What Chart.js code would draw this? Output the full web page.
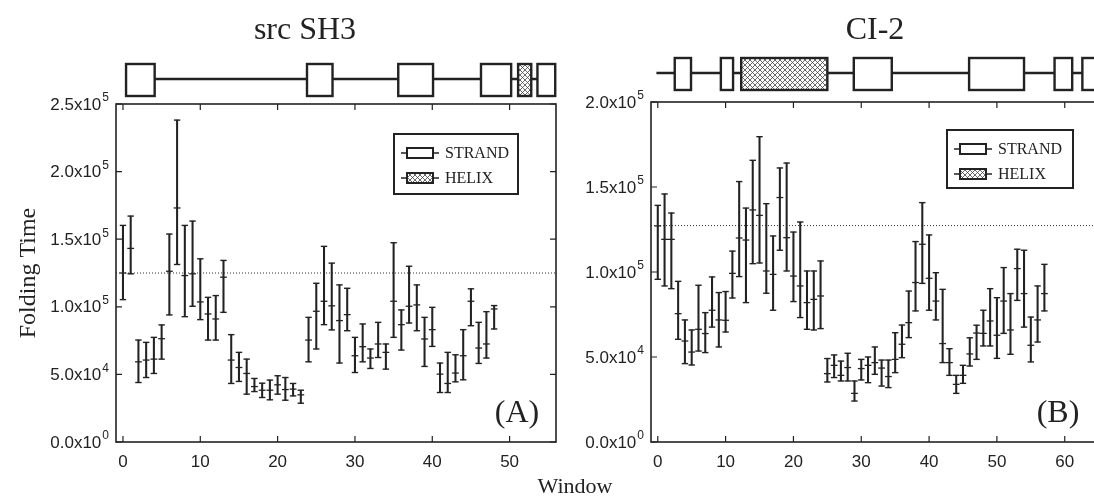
<!DOCTYPE html>
<html lang="en">
<head>
    <meta charset="UTF-8">
    <title>Folding Time per Window</title>
    <script src="https://cdn.jsdelivr.net/npm/chart.js"></script>
    <style>
        html, body {
            margin: 0;
            padding: 0;
            background: #fff;
            overflow: hidden;
            width: 1094px;
            height: 500px;
        }
        .panel {
            position: absolute;
            top: 0;
            height: 500px;
        }
        .label {
            position: absolute;
            transform: translate(-50%, -50%);
            font-family: 'Liberation Serif', serif;
            color: #222;
            white-space: nowrap;
        }
    </style>
</head>
<body>
    <div class="panel" style="left:0;width:570px;"><canvas id="chartA" width="570" height="500"></canvas></div>
    <div class="panel" style="left:560px;width:550px;"><canvas id="chartB" width="550" height="500"></canvas></div>

    <div class="label" style="left:305px;top:28px;font-size:32px;">src SH3</div>
    <div class="label" style="left:875px;top:28px;font-size:32px;">CI-2</div>
    <div class="label" style="left:575px;top:486px;font-size:22px;">Window</div>

    <script>
        // ---- src SH3 (panel A), folding time in units of 1000 ----
        const windowsA = [0, 1, 2, 3, 4, 5, 6, 7, 8, 9, 10, 11, 12, 13, 14, 15, 16, 17, 18, 19,
            20, 21, 22, 23, 24, 25, 26, 27, 28, 29, 30, 31, 32, 33, 34, 35, 36, 37, 38, 39,
            40, 41, 42, 43, 44, 45, 46, 47, 48];
        const meanA = [125.0, 143.2, 59.3, 60.6, 61.3, 76.4, 126.3, 173.1, 123.1, 124.4,
            103.6, 94.7, 91.0, 121.9, 60.6, 55.1, 50.7, 41.0, 38.3, 38.3,
            42.3, 38.8, 39.1, 34.9, 75.4, 96.7, 104.1, 100.7, 89.8, 94.2,
            63.8, 70.5, 62.1, 72.5, 66.3, 104.1, 86.8, 100.4, 101.4, 76.2,
            83.1, 50.2, 43.3, 51.0, 63.8, 104.1, 69.5, 72.5, 98.4];
        const highA = [160.2, 167.1, 75.4, 73.7, 77.4, 86.6, 153.8, 238.1, 160.2, 163.4,
            135.5, 107.0, 108.3, 134.3, 79.4, 66.3, 61.3, 47.0, 43.5, 45.8,
            49.0, 47.7, 43.3, 38.3, 92.2, 117.4, 144.7, 132.3, 116.2, 113.7,
            77.4, 87.3, 68.8, 88.5, 72.5, 147.4, 97.7, 130.0, 116.2, 92.2,
            99.6, 58.4, 66.3, 64.5, 83.1, 113.3, 88.5, 96.4, 100.9];
        const lowA = [105.3, 124.4, 44.0, 47.7, 50.7, 61.3, 94.0, 131.3, 92.7, 100.4,
            90.5, 75.4, 75.4, 95.9, 43.3, 44.8, 35.4, 37.3, 32.9, 31.2,
            35.4, 30.9, 34.1, 28.7, 59.3, 68.8, 86.8, 82.9, 58.4, 82.3,
            51.4, 59.3, 54.4, 62.5, 53.9, 77.4, 68.0, 88.0, 82.3, 55.9,
            70.7, 36.6, 36.6, 44.5, 46.0, 86.0, 58.1, 62.1, 83.6];
        const referenceA = 125.0;
        const strandsA = [[0.4, 4.1], [23.8, 27.1], [35.6, 40.1], [46.3, 50.2], [53.6, 55.9]];
        const helicesA = [[51.1, 52.8]];
        const xTicksA = [0, 10, 20, 30, 40, 50];
        const yTicksA = [0, 50, 100, 150, 200, 250];
        const yTickBaseA = ['0.0x10', '5.0x10', '1.0x10', '1.5x10', '2.0x10', '2.5x10'];
        const yTickExpA = ['0', '4', '5', '5', '5', '5'];

        // ---- CI-2 (panel B) ----
        const windowsB = [0, 1, 2, 3, 4, 5, 6, 7, 8, 9, 10, 11, 12, 13, 14, 15, 16, 17, 18, 19,
            20, 21, 22, 23, 24, 25, 26, 27, 28, 29, 30, 31, 32, 33, 34, 35, 36, 37, 38, 39,
            40, 41, 42, 43, 44, 45, 46, 47, 48, 49, 50, 51, 52, 53, 54, 55, 56, 57];
        const meanB = [127.1, 119.2, 119.2, 75.5, 59.4, 52.9, 66.3, 63.8, 77.5, 71.8,
            71.6, 99.2, 120.0, 118.8, 136.5, 133.3, 100.6, 98.6, 143.8, 120.2,
            97.6, 91.8, 82.0, 83.9, 85.9, 40.2, 45.1, 39.2, 43.8, 28.6,
            43.2, 45.1, 46.7, 43.5, 38.5, 48.6, 57.5, 70.2, 93.8, 116.3,
            96.3, 82.9, 57.9, 46.7, 33.9, 39.2, 51.8, 64.1, 63.9, 71.2,
            62.8, 82.9, 65.9, 102.0, 87.3, 56.9, 71.8, 87.3];
        const highB = [139.2, 145.9, 134.7, 94.5, 71.8, 65.9, 92.2, 76.1, 97.1, 87.9,
            88.5, 112.3, 153.2, 137.6, 165.7, 179.6, 140.2, 121.2, 161.2, 164.1,
            123.5, 129.4, 100.6, 100.6, 106.5, 49.1, 51.2, 47.6, 52.2, 35.9,
            48.6, 50.0, 55.9, 48.2, 48.2, 64.3, 68.8, 88.8, 117.9, 140.8,
            121.8, 99.6, 89.8, 54.9, 39.2, 45.1, 61.3, 68.7, 77.5, 90.2,
            84.9, 102.6, 87.3, 113.4, 112.8, 73.5, 91.8, 104.5];
        const lowB = [95.7, 91.8, 90.2, 60.4, 46.1, 45.3, 53.5, 52.6, 67.6, 55.9,
            64.7, 84.7, 97.3, 82.0, 104.9, 105.3, 87.5, 77.5, 112.8, 100.6,
            82.6, 73.2, 66.3, 65.9, 66.7, 35.3, 37.9, 35.9, 35.9, 24.1,
            36.5, 34.9, 39.8, 32.9, 32.0, 40.8, 49.6, 61.4, 77.1, 93.3,
            77.5, 71.8, 46.7, 39.2, 28.6, 34.5, 44.7, 48.6, 56.5, 56.5,
            49.2, 63.9, 51.6, 83.3, 67.6, 47.1, 58.8, 77.1];
        const referenceB = 127.3;
        const strandsB = [[2.5, 4.9], [9.3, 11.1], [28.9, 34.5], [45.9, 54.0], [58.5, 61.1], [62.6, 66.0]];
        const helicesB = [[12.3, 25.0]];
        const xTicksB = [0, 10, 20, 30, 40, 50, 60];
        const yTicksB = [0, 50, 100, 150, 200];
        const yTickBaseB = ['0.0x10', '5.0x10', '1.0x10', '1.5x10', '2.0x10'];
        const yTickExpB = ['0', '4', '5', '5', '5'];

        const legendLabels = ['STRAND', 'HELIX'];
        const INK = '#222';

        function hatchPattern(ctx) {
            const c = document.createElement('canvas');
            c.width = 5; c.height = 5;
            const g = c.getContext('2d');
            g.fillStyle = '#fff';
            g.fillRect(0, 0, 5, 5);
            g.strokeStyle = '#444';
            g.lineWidth = 0.8;
            g.beginPath();
            g.moveTo(0, 0); g.lineTo(5, 5);
            g.moveTo(5, 0); g.lineTo(0, 5);
            g.stroke();
            return ctx.createPattern(c, 'repeat');
        }

        // frame, inward ticks, y labels with exponents, structure bar, legend, panel tag
        const decorPlugin = {
            id: 'decor',
            afterDraw(chart, args, o) {
                const ctx = chart.ctx;
                const { left, right, top, bottom } = chart.chartArea;
                const xs = chart.scales.x, ys = chart.scales.y;
                const hatch = hatchPattern(ctx);
                ctx.save();
                ctx.strokeStyle = INK;
                ctx.lineWidth = 1.2;
                ctx.beginPath();
                xs.ticks.forEach(t => {
                    const px = xs.getPixelForValue(t.value);
                    ctx.moveTo(px, bottom); ctx.lineTo(px, bottom - 6);
                    ctx.moveTo(px, top); ctx.lineTo(px, top + 6);
                });
                ys.ticks.forEach(t => {
                    const py = ys.getPixelForValue(t.value);
                    ctx.moveTo(left, py); ctx.lineTo(left + 6, py);
                    ctx.moveTo(right, py); ctx.lineTo(right - 6, py);
                });
                ctx.stroke();
                ctx.lineWidth = 1.6;
                ctx.strokeRect(left, top, right - left, bottom - top);

                // y tick labels: mantissa x 10 with a raised exponent
                ctx.fillStyle = INK;
                ctx.textAlign = 'right';
                ctx.textBaseline = 'middle';
                ys.ticks.forEach((t, i) => {
                    const py = ys.getPixelForValue(t.value);
                    const xe = left - 7;
                    ctx.font = '12px "Liberation Sans"';
                    const ew = ctx.measureText(o.yExp[i]).width;
                    ctx.fillText(o.yExp[i], xe, py - 6);
                    ctx.font = '17px "Liberation Sans"';
                    ctx.fillText(o.yBase[i], xe - ew - 1, py + 1);
                });

                // secondary structure
                const s = o.structure;
                ctx.lineWidth = 2.4;
                ctx.beginPath();
                ctx.moveTo(xs.getPixelForValue(s.from), s.lineY);
                ctx.lineTo(xs.getPixelForValue(s.to), s.lineY);
                ctx.stroke();
                const box = (seg, fill) => {
                    const x0 = xs.getPixelForValue(seg[0]);
                    const x1 = xs.getPixelForValue(seg[1]);
                    ctx.fillStyle = fill;
                    ctx.fillRect(x0, s.boxTop, x1 - x0, s.boxBottom - s.boxTop);
                    ctx.strokeRect(x0, s.boxTop, x1 - x0, s.boxBottom - s.boxTop);
                };
                s.strands.forEach(seg => box(seg, '#fff'));
                s.helices.forEach(seg => box(seg, hatch));

                // legend
                const L = o.legend;
                ctx.lineWidth = 2;
                ctx.fillStyle = '#fff';
                ctx.fillRect(L.x, L.y, L.w, L.h);
                ctx.strokeRect(L.x, L.y, L.w, L.h);
                legendLabels.forEach((label, i) => {
                    const cy = L.y + 19 + i * 25;
                    ctx.lineWidth = 1.5;
                    ctx.beginPath();
                    ctx.moveTo(L.x + 7, cy); ctx.lineTo(L.x + 45, cy);
                    ctx.stroke();
                    ctx.lineWidth = 2;
                    ctx.fillStyle = i === 0 ? '#fff' : hatch;
                    ctx.fillRect(L.x + 13, cy - 5, 26, 10);
                    ctx.strokeRect(L.x + 13, cy - 5, 26, 10);
                    ctx.fillStyle = INK;
                    ctx.font = '16px "Liberation Serif"';
                    ctx.textBaseline = 'middle';
                    ctx.textAlign = 'left';
                    ctx.fillText(label, L.x + 51, cy + 1);
                });

                // panel tag
                ctx.fillStyle = INK;
                ctx.font = '32px "Liberation Serif"';
                ctx.textAlign = 'center';
                ctx.textBaseline = 'middle';
                ctx.fillText(o.tag.text, o.tag.x, o.tag.y);
                ctx.restore();
            }
        };

        function makePanel(id, p) {
            const ctx = document.getElementById(id).getContext('2d');
            return new Chart(ctx, {
                type: 'scatter',
                data: {
                    datasets: [{
                        type: 'bar',
                        data: p.windows.map((w, i) => ({ x: w, y: [p.low[i], p.high[i]] })),
                        backgroundColor: INK,
                        borderWidth: 0,
                        barThickness: 1.4
                    }, {
                        data: p.windows.map((w, i) => ({ x: w, y: p.mean[i] })),
                        pointStyle: 'line',
                        radius: 3.4,
                        borderColor: INK,
                        borderWidth: 1.3
                    }, {
                        data: p.windows.map((w, i) => ({ x: w, y: p.low[i] })),
                        pointStyle: 'line',
                        radius: 3.2,
                        borderColor: INK,
                        borderWidth: 1.4
                    }, {
                        data: p.windows.map((w, i) => ({ x: w, y: p.high[i] })),
                        pointStyle: 'line',
                        radius: 3.2,
                        borderColor: INK,
                        borderWidth: 1.4
                    }, {
                        type: 'line',
                        data: [{ x: p.xMin, y: p.reference }, { x: p.xMax, y: p.reference }],
                        borderColor: '#333',
                        borderWidth: 1,
                        borderDash: [1, 2],
                        pointRadius: 0
                    }]
                },
                options: {
                    responsive: false,
                    animation: false,
                    layout: { padding: { left: 0, top: p.top, right: p.padRight, bottom: 0 } },
                    plugins: {
                        legend: { display: false },
                        tooltip: { enabled: false },
                        decor: p.decor
                    },
                    scales: {
                        x: {
                            type: 'linear',
                            offset: false,
                            min: p.xMin,
                            max: p.xMax,
                            grid: { display: false, drawTicks: false, offset: false },
                            border: { display: false },
                            afterBuildTicks: s => { s.ticks = p.xTicks.map(v => ({ value: v })); },
                            afterFit: s => { s.height = 58; },
                            ticks: {
                                padding: 10,
                                color: INK,
                                font: { family: 'Liberation Sans', size: 17 }
                            }
                        },
                        y: {
                            min: 0,
                            max: p.yMax,
                            grid: { display: false, drawTicks: false },
                            border: { display: false },
                            afterBuildTicks: s => { s.ticks = p.yTicks.map(v => ({ value: v })); },
                            afterFit: s => { s.width = p.yWidth; },
                            title: {
                                display: !!p.yTitle,
                                text: p.yTitle || '',
                                color: INK,
                                font: { family: 'Liberation Serif', size: 24 },
                                padding: { top: 14, bottom: 0 }
                            },
                            ticks: { display: false }
                        }
                    }
                },
                plugins: [decorPlugin]
            });
        }

        makePanel('chartA', {
            windows: windowsA, mean: meanA, high: highA, low: lowA, reference: referenceA,
            xMin: -0.9, xMax: 56, yMax: 250, xTicks: xTicksA, yTicks: yTicksA,
            top: 104, padRight: 14, yWidth: 116, yTitle: 'Folding Time',
            decor: {
                yBase: yTickBaseA, yExp: yTickExpA,
                structure: { from: 4.1, to: 53.6, lineY: 79, boxTop: 64, boxBottom: 96, strands: strandsA, helices: helicesA },
                legend: { x: 394, y: 134, w: 124, h: 60 },
                tag: { text: '(A)', x: 517, y: 414 }
            }
        });

        makePanel('chartB', {
            windows: windowsB, mean: meanB, high: highB, low: lowB, reference: referenceB,
            xMin: -1, xMax: 65.2, yMax: 200, xTicks: xTicksB, yTicks: yTicksB,
            top: 102, padRight: 10, yWidth: 91, yTitle: null,
            decor: {
                yBase: yTickBaseB, yExp: yTickExpB,
                structure: { from: -0.2, to: 66, lineY: 73, boxTop: 58, boxBottom: 90, strands: strandsB, helices: helicesB },
                legend: { x: 387, y: 130, w: 126, h: 58 },
                tag: { text: '(B)', x: 498, y: 414 }
            }
        });
    </script>
</body>
</html>
